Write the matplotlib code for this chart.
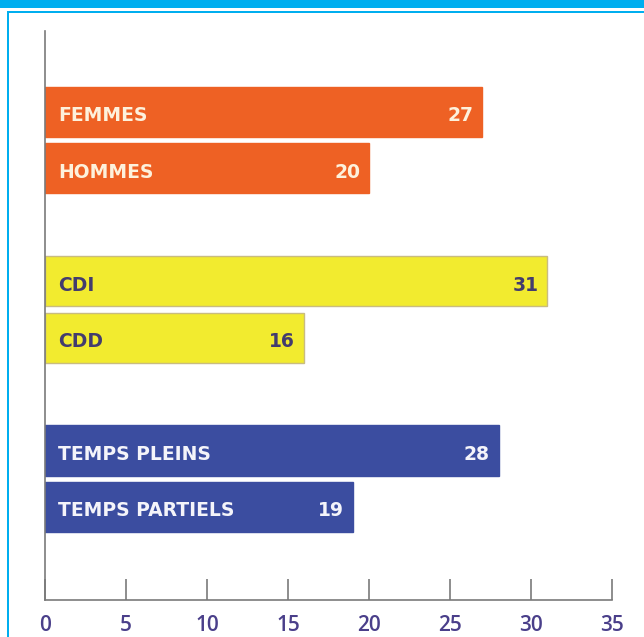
import matplotlib.pyplot as plt
from matplotlib.patches import Rectangle

# Data
categories = ["FEMMES", "HOMMES", "CDI", "CDD", "TEMPS PLEINS", "TEMPS PARTIELS"]
values = [27, 20, 31, 16, 28, 19]
groups = [0, 0, 1, 1, 2, 2]
xticks = [0, 5, 10, 15, 20, 25, 30, 35]

group_colors = ["#EE6124", "#F2EB2F", "#3B4DA0"]
group_text = ["#FDF1DC", "#433C6E", "#F4F4FA"]
group_edges = ["#EE6124", "#C9BC80", "#3B4DA0"]

W, H = 644, 637
fig = plt.figure(figsize=(W / 100, H / 100), dpi=100)
fig.patch.set_facecolor("white")

# blue frame decoration
fig.patches.append(Rectangle((0, 1 - 8 / H), 1, 8 / H, transform=fig.transFigure,
                             facecolor="#00AEEF", edgecolor="none"))
fig.patches.append(Rectangle((7 / W, 1 - 13 / H), 1, 2 / H, transform=fig.transFigure,
                             facecolor="#00AEEF", edgecolor="none"))
fig.patches.append(Rectangle((7 / W, 0), 2 / W, 1 - 11 / H, transform=fig.transFigure,
                             facecolor="#00AEEF", edgecolor="none"))

ax = fig.add_axes([45 / W, 1 - 600 / H, (612 - 45) / W, (600 - 31) / H])
ax.set_facecolor("none")

# positions: bars within group adjacent, one empty slot between groups
pos = [g * 3 + i % 2 for i, g in enumerate(groups)]

for p, cat, v, g in zip(pos, categories, values, groups):
    ax.barh(p, v, height=0.887, color=group_colors[g], edgecolor=group_edges[g],
            linewidth=1.0, zorder=2)
    ax.text(0.8, p + 0.07, cat, va="center", ha="left", fontsize=13.5,
            fontweight="bold", color=group_text[g], family="DejaVu Sans", zorder=3)
    ax.text(v - 0.55, p + 0.07, str(v), va="center", ha="right", fontsize=13.5,
            fontweight="bold", color=group_text[g], family="DejaVu Sans", zorder=3)

ax.set_xlim(0, 35)
ax.set_ylim(8.65, -1.436)
ax.set_xticks(xticks)
ax.set_yticks([])
for s in ["top", "right"]:
    ax.spines[s].set_visible(False)
for s in ["left", "bottom"]:
    ax.spines[s].set_color("#7A7A7A")
    ax.spines[s].set_linewidth(1.2)
ax.tick_params(axis="x", direction="in", length=15, width=1.2, color="#7A7A7A",
               pad=11, labelsize=15, labelcolor="#4A3F8A")
for lbl in ax.get_xticklabels():
    lbl.set_family("Open Sans")
    lbl.set_fontweight("semibold")

fig.savefig("out.png", dpi=100)
